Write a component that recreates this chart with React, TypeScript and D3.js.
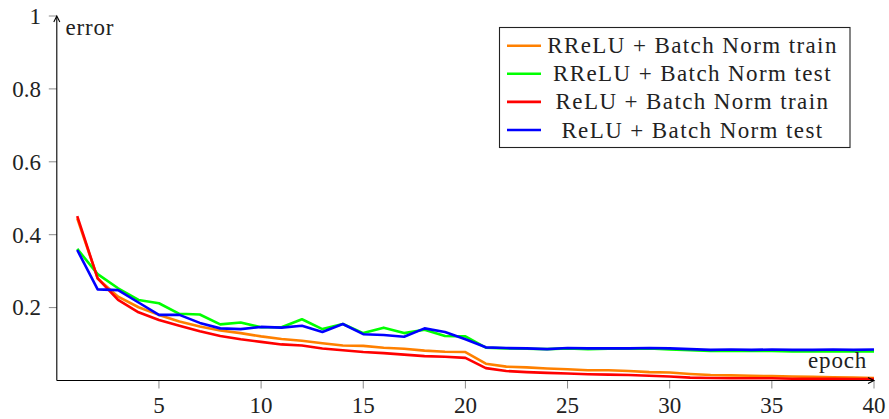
import React from 'react';
import * as d3 from 'd3';

// epochs 1..40, error values
const epochs = d3.range(1, 41);

const rreluTrain = [
    0.445, 0.28, 0.23, 0.201, 0.18, 0.162, 0.148, 0.137, 0.13, 0.121,
    0.114, 0.109, 0.102, 0.096, 0.095, 0.09, 0.087, 0.082, 0.079, 0.078,
    0.046, 0.038, 0.036, 0.033, 0.031, 0.028, 0.028, 0.026, 0.023, 0.022,
    0.018, 0.015, 0.014, 0.013, 0.012, 0.011, 0.01, 0.009, 0.008, 0.007,
];
const rreluTest = [
    0.361, 0.292, 0.253, 0.221, 0.212, 0.183, 0.181, 0.154, 0.159, 0.146,
    0.146, 0.168, 0.141, 0.155, 0.13, 0.145, 0.13, 0.139, 0.122, 0.121,
    0.09, 0.088, 0.087, 0.086, 0.088, 0.086, 0.087, 0.087, 0.088, 0.085,
    0.083, 0.081, 0.081, 0.081, 0.081, 0.08, 0.08, 0.08, 0.08, 0.08,
];
const reluTrain = [
    0.451, 0.28, 0.221, 0.187, 0.166, 0.15, 0.135, 0.122, 0.113, 0.106,
    0.099, 0.096, 0.088, 0.083, 0.078, 0.075, 0.071, 0.067, 0.065, 0.062,
    0.034, 0.026, 0.023, 0.021, 0.019, 0.017, 0.016, 0.015, 0.013, 0.011,
    0.008, 0.007, 0.006, 0.006, 0.006, 0.005, 0.005, 0.005, 0.004, 0.004,
];
const reluTest = [
    0.358, 0.25, 0.248, 0.214, 0.18, 0.18, 0.158, 0.143, 0.141, 0.147,
    0.145, 0.15, 0.133, 0.155, 0.127, 0.125, 0.12, 0.143, 0.133, 0.113,
    0.091, 0.089, 0.088, 0.086, 0.089, 0.088, 0.088, 0.088, 0.089, 0.088,
    0.086, 0.084, 0.085, 0.084, 0.085, 0.084, 0.084, 0.085, 0.084, 0.085,
];

const seriesNames = [
    'RReLU + Batch Norm train',
    'RReLU + Batch Norm test',
    'ReLU + Batch Norm train',
    'ReLU + Batch Norm test',
];
const seriesColors = ['#ff8000', '#00ff00', '#ff0000', '#0000ff'];
const seriesValues = [rreluTrain, rreluTest, reluTrain, reluTest];

const xTicks = [5, 10, 15, 20, 25, 30, 35, 40];
const yTicks = [0.2, 0.4, 0.6, 0.8, 1];

const W = 889;
const H = 419;
const FONT = "'Liberation Serif', 'DejaVu Serif', serif";

export default function App() {
    const x = d3.scaleLinear().domain([0, 40]).range([56.8, 874]);
    const y = d3.scaleLinear().domain([0, 1]).range([380.5, 16]);

    const line = d3.line<number>()
        .x((_, i) => x(epochs[i]))
        .y(d => y(d));

    const axisColor = '#000';
    const tickColor = '#8a8a8a';
    const x0 = x(0);
    const y0 = y(0);

    // legend geometry
    const legX = 499.5;
    const legY = 27.5;
    const legW = 350.5;
    const legH = 120;
    const rowH = 28.1;

    const txt = { fontFamily: FONT, fontSize: '23px' };

    return (
        <svg
            width={W}
            height={H}
            viewBox={`0 0 ${W} ${H}`}
            style={{ position: 'absolute', left: 0, top: 0, background: '#fff', fontFamily: FONT }}
        >
            <rect width={W} height={H} fill="#fff" />

            {/* x ticks */}
            {xTicks.map(t => (
                <g key={`xt${t}`}>
                    <line x1={x(t)} x2={x(t)} y1={y0} y2={y0 + 8} stroke={tickColor} strokeWidth={1} />
                    <text x={x(t)} y={413} style={txt} textAnchor="middle" fill="#222">{t}</text>
                </g>
            ))}

            {/* y ticks */}
            {yTicks.map(t => (
                <g key={`yt${t}`}>
                    <line x1={x0 - 8} x2={x0} y1={y(t)} y2={y(t)} stroke={tickColor} strokeWidth={1} />
                    <text x={41} y={y(t)} dy="0.34em" style={txt} textAnchor="end" fill="#222">{t}</text>
                </g>
            ))}

            {/* series */}
            {seriesValues.map((vals, i) => (
                <path
                    key={seriesNames[i]}
                    d={line(vals) || ''}
                    fill="none"
                    stroke={seriesColors[i]}
                    strokeWidth={2.6}
                    strokeLinejoin="round"
                />
            ))}

            {/* axes with arrow heads */}
            <line x1={x0} x2={x0} y1={y0} y2={y(1) + 1} stroke={axisColor} strokeWidth={1.1} />
            <path d={`M${x0 - 3},${y(1) + 6} L${x0},${y(1)} L${x0 + 3},${y(1) + 6}`} fill="none" stroke={axisColor} strokeWidth={1.1} />
            <line x1={x0} x2={x(40) - 1} y1={y0} y2={y0} stroke={axisColor} strokeWidth={1.1} />
            <path d={`M${x(40) - 6},${y0 - 3} L${x(40)},${y0} L${x(40) - 6},${y0 + 3}`} fill="none" stroke={axisColor} strokeWidth={1.1} />

            <text x={65.5} y={35} style={{ ...txt, letterSpacing: '0.8px' }} fill="#222">error</text>
            <text x={867} y={368} style={{ ...txt, letterSpacing: '0.8px' }} textAnchor="end" fill="#222">epoch</text>

            {/* legend */}
            <rect x={legX} y={legY} width={legW} height={legH} fill="#fff" stroke="#222" strokeWidth={1.1} />
            {seriesNames.map((name, i) => {
                const cy = legY + 18.2 + i * rowH;
                return (
                    <g key={`leg${i}`}>
                        <line x1={507} x2={541} y1={cy} y2={cy} stroke={seriesColors[i]} strokeWidth={2.6} />
                        <text x={692.5} y={cy} dy="0.33em" style={{ ...txt, letterSpacing: '1.4px' }} textAnchor="middle" fill="#222">{name}</text>
                    </g>
                );
            })}
        </svg>
    );
}
